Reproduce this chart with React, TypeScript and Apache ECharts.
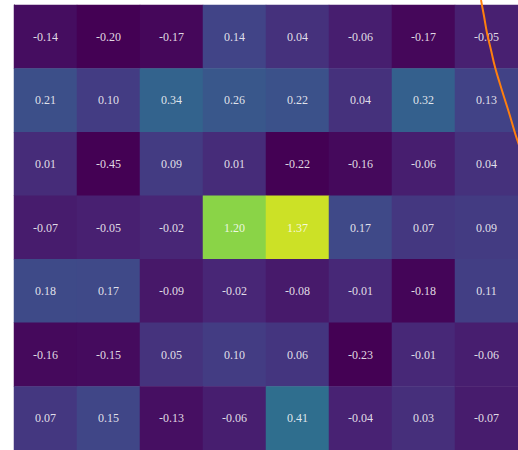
import React, { useEffect, useRef } from "react";
import * as echarts from "echarts";

const columns = ["c0", "c1", "c2", "c3", "c4", "c5", "c6", "c7"];
const rows = ["r0", "r1", "r2", "r3", "r4", "r5", "r6"];

const row0 = [-0.14, -0.2, -0.17, 0.14, 0.04, -0.06, -0.17, -0.05];
const row1 = [0.21, 0.1, 0.34, 0.26, 0.22, 0.04, 0.32, 0.13];
const row2 = [0.01, -0.45, 0.09, 0.01, -0.22, -0.16, -0.06, 0.04];
const row3 = [-0.07, -0.05, -0.02, 1.2, 1.37, 0.17, 0.07, 0.09];
const row4 = [0.18, 0.17, -0.09, -0.02, -0.08, -0.01, -0.18, 0.11];
const row5 = [-0.16, -0.15, 0.05, 0.1, 0.06, -0.23, -0.01, -0.06];
const row6 = [0.07, 0.15, -0.13, -0.06, 0.41, -0.04, 0.03, -0.07];
const matrix = [row0, row1, row2, row3, row4, row5, row6];

// orange curve (in figure coordinates)
const curveX = [481, 484, 487, 491, 495, 500, 505, 510, 515, 519];
const curveY = [0, 16, 33, 50, 67, 84, 100, 116, 133, 145];

const viridis = [
  "#440154", "#482475", "#414487", "#355f8d", "#2a788e", "#21918c",
  "#22a884", "#44bf70", "#7ad151", "#bddf26", "#fde725",
];

export default function App() {
  const ref = useRef<HTMLDivElement>(null);
  useEffect(() => {
    if (!ref.current) return;
    const chart = echarts.init(ref.current, null, { renderer: "svg" });
    const heatData: [number, number, number][] = [];
    matrix.forEach((r, yi) => r.forEach((v, xi) => heatData.push([xi, yi, v])));
    chart.setOption({
      animation: false,
      grid: [
        { left: 14, top: 5, width: 512, height: 448 },
        { left: 0, top: 0, width: 518, height: 450 },
      ],
      xAxis: [
        { type: "category", data: columns, gridIndex: 0, show: false },
        { type: "value", gridIndex: 1, min: 0, max: 518, show: false },
      ],
      yAxis: [
        {
          type: "category",
          data: rows,
          gridIndex: 0,
          inverse: true,
          axisLine: { show: true, lineStyle: { color: "#333", width: 1 } },
          axisTick: { show: false },
          axisLabel: { show: false },
          splitLine: { show: false },
        },
        { type: "value", gridIndex: 1, min: 0, max: 450, inverse: true, show: false },
      ],
      visualMap: {
        show: false,
        type: "continuous",
        min: -0.2,
        max: 1.5,
        seriesIndex: 0,
        inRange: { color: viridis },
      },
      series: [
        {
          type: "heatmap",
          xAxisIndex: 0,
          yAxisIndex: 0,
          data: heatData,
          itemStyle: { borderWidth: 0 },
          label: {
            show: true,
            formatter: (p: any) => (p.value[2] as number).toFixed(2),
            color: "rgba(255,255,255,0.85)",
            fontFamily: "Liberation Serif, serif",
            fontSize: 12,
          },
        },
        {
          type: "line",
          xAxisIndex: 1,
          yAxisIndex: 1,
          data: curveX.map((x, i) => [x, curveY[i]]),
          smooth: true,
          symbol: "none",
          lineStyle: { color: "#ff7f0e", width: 2 },
          z: 10,
        },
      ],
    });
    return () => chart.dispose();
  }, []);
  return (
    <div
      ref={ref}
      style={{ position: "absolute", left: 0, top: 0, width: 518, height: 450 }}
    />
  );
}
